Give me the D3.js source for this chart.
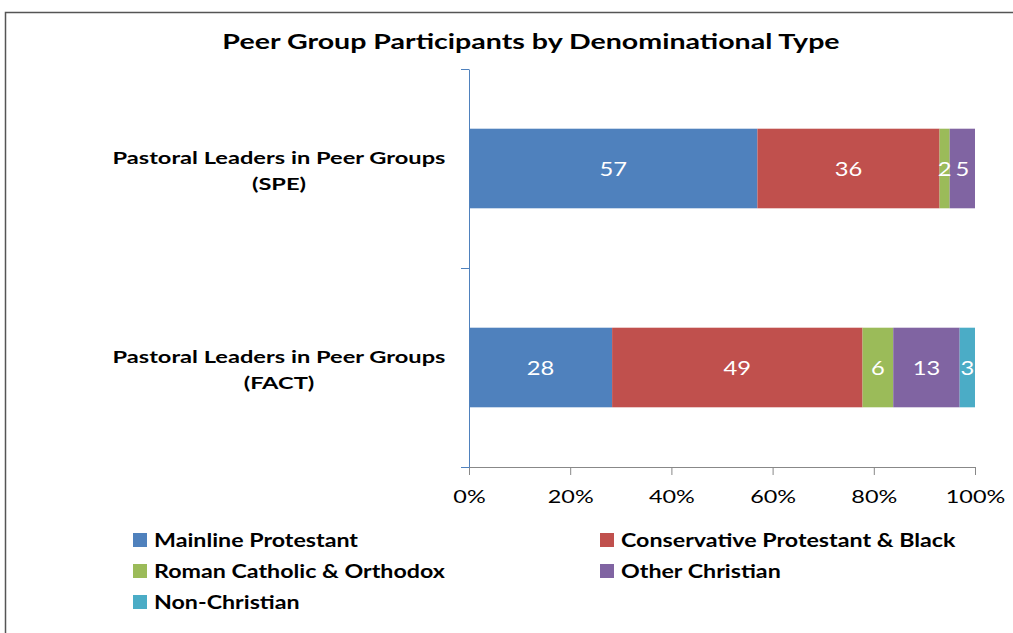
<!DOCTYPE html>
<html>
<head>
<meta charset="utf-8">
<script src="https://cdn.jsdelivr.net/npm/d3@7"></script>
<style>
  body { margin: 0; background: #fff; }
  text { font-family: Lato, "Open Sans", sans-serif; }
</style>
</head>
<body>
<div class="chart"></div>
<script>
var categories = ["Pastoral Leaders in Peer Groups (SPE)", "Pastoral Leaders in Peer Groups (FACT)"];
var catLines = [["Pastoral Leaders in Peer Groups", "(SPE)"], ["Pastoral Leaders in Peer Groups", "(FACT)"]];
var seriesNames = ["Mainline Protestant", "Conservative Protestant & Black", "Roman Catholic & Orthodox", "Other Christian", "Non-Christian"];
var speValues  = [57, 36, 2, 5, 0];
var factValues = [28, 49, 6, 13, 3];
var tickValues = [0, 0.2, 0.4, 0.6, 0.8, 1];
var colors = ["#4f81bd", "#c0504d", "#9bbb59", "#8064a2", "#4bacc6"];

var w = 1013, h = 633;

// the original text is drawn wide, so glyphs get stretched sideways
function stretch(sel, k) {
  sel.each(function () {
    var len = this.getComputedTextLength();
    d3.select(this).attr("textLength", len * k).attr("lengthAdjust", "spacingAndGlyphs");
  });
}

var svg = d3.select(".chart")
  .append("svg")
  .attr("width", w)
  .attr("height", h);

// outer frame
svg.append("rect")
  .attr("x", 5.5).attr("y", 12.5)
  .attr("width", 1030).attr("height", 650)
  .attr("fill", "none")
  .attr("stroke", "#555")
  .attr("stroke-width", 1.5);

var title = svg.append("text")
  .attr("x", 531).attr("y", 49)
  .attr("text-anchor", "middle")
  .style("font-size", "21px")
  .style("font-weight", "bold")
  .text("Peer Group Participants by Denominational Type");
stretch(title, 1.36);

var x = d3.scaleLinear().domain([0, 1]).range([469, 975]);
var y = d3.scaleBand().domain(categories).range([69, 467]).paddingInner(0.6).paddingOuter(0.3);
var yEdges = d3.scaleLinear().domain([0, 2]).range([69, 467]);

// stack normalised to 100%
var rows = [speValues, factValues].map(function (vals, i) {
  var total = d3.sum(vals), acc = 0;
  return vals.map(function (v, j) {
    var seg = { cat: categories[i], v: v, j: j, x0: acc / total, x1: (acc + v) / total };
    acc += v;
    return seg;
  }).filter(function (s) { return s.v > 0; });
});
var segs = d3.merge(rows);

svg.selectAll("rect.bar")
  .data(segs)
  .enter()
  .append("rect")
  .attr("class", "bar")
  .attr("x", function (d) { return x(d.x0); })
  .attr("width", function (d) { return x(d.x1) - x(d.x0); })
  .attr("y", function (d) { return y(d.cat); })
  .attr("height", y.bandwidth())
  .attr("fill", function (d) { return colors[d.j]; });

var vals = svg.selectAll("text.val")
  .data(segs)
  .enter()
  .append("text")
  .attr("class", "val")
  .attr("x", function (d) { return (x(d.x0) + x(d.x1)) / 2; })
  .attr("y", function (d) { return y(d.cat) + y.bandwidth() / 2 + 7; })
  .attr("text-anchor", "middle")
  .attr("fill", "#fff")
  .style("font-size", "19px")
  .text(function (d) { return d.v; });
stretch(vals, 1.25);

// axes
var xAxis = svg.append("g")
  .attr("transform", "translate(0,467)")
  .call(d3.axisBottom(x).tickValues(tickValues).tickFormat(d3.format(".0%")).tickSize(8).tickSizeOuter(0).tickPadding(15));
xAxis.select(".domain").attr("stroke", "#888");
xAxis.selectAll(".tick line").attr("stroke", "#888");
xAxis.selectAll(".tick text")
  .style("font-size", "18px")
  .style("font-family", "Lato, sans-serif")
  .attr("fill", "#000");
stretch(xAxis.selectAll(".tick text"), 1.3);

var yAxis = svg.append("g")
  .attr("transform", "translate(469,0)")
  .call(d3.axisLeft(yEdges).ticks(2).tickFormat("").tickSize(8).tickSizeOuter(0));
yAxis.select(".domain").attr("stroke", "#4f81bd");
yAxis.selectAll(".tick line").attr("stroke", "#4f81bd");

// category labels
var catLabel = svg.selectAll("text.cat")
  .data(categories)
  .enter()
  .append("text")
  .attr("class", "cat")
  .attr("text-anchor", "middle")
  .style("font-size", "17px")
  .style("font-weight", "bold");
var catSpans = catLabel.selectAll("tspan")
  .data(function (d, i) { return catLines[i].map(function (t, k) { return { t: t, k: k, c: d }; }); })
  .enter()
  .append("tspan")
  .attr("x", 279)
  .attr("y", function (d) { return y(d.c) + y.bandwidth() / 2 - 5 + d.k * 26; })
  .text(function (d) { return d.t; });
stretch(catSpans, 1.39);

// legend
var legend = svg.selectAll("g.leg")
  .data(seriesNames)
  .enter()
  .append("g")
  .attr("class", "leg")
  .attr("transform", function (d, i) {
    return "translate(" + (i % 2 ? 600 : 133) + "," + (540 + Math.floor(i / 2) * 31) + ")";
  });
legend.append("rect")
  .attr("x", 0).attr("y", -7)
  .attr("width", 14).attr("height", 14)
  .attr("fill", function (d, i) { return colors[i]; });
var legText = legend.append("text")
  .attr("x", 21).attr("y", 7)
  .style("font-size", "18px")
  .style("font-weight", "bold")
  .text(function (d) { return d; });
stretch(legText, 1.29);
</script>
</body>
</html>
